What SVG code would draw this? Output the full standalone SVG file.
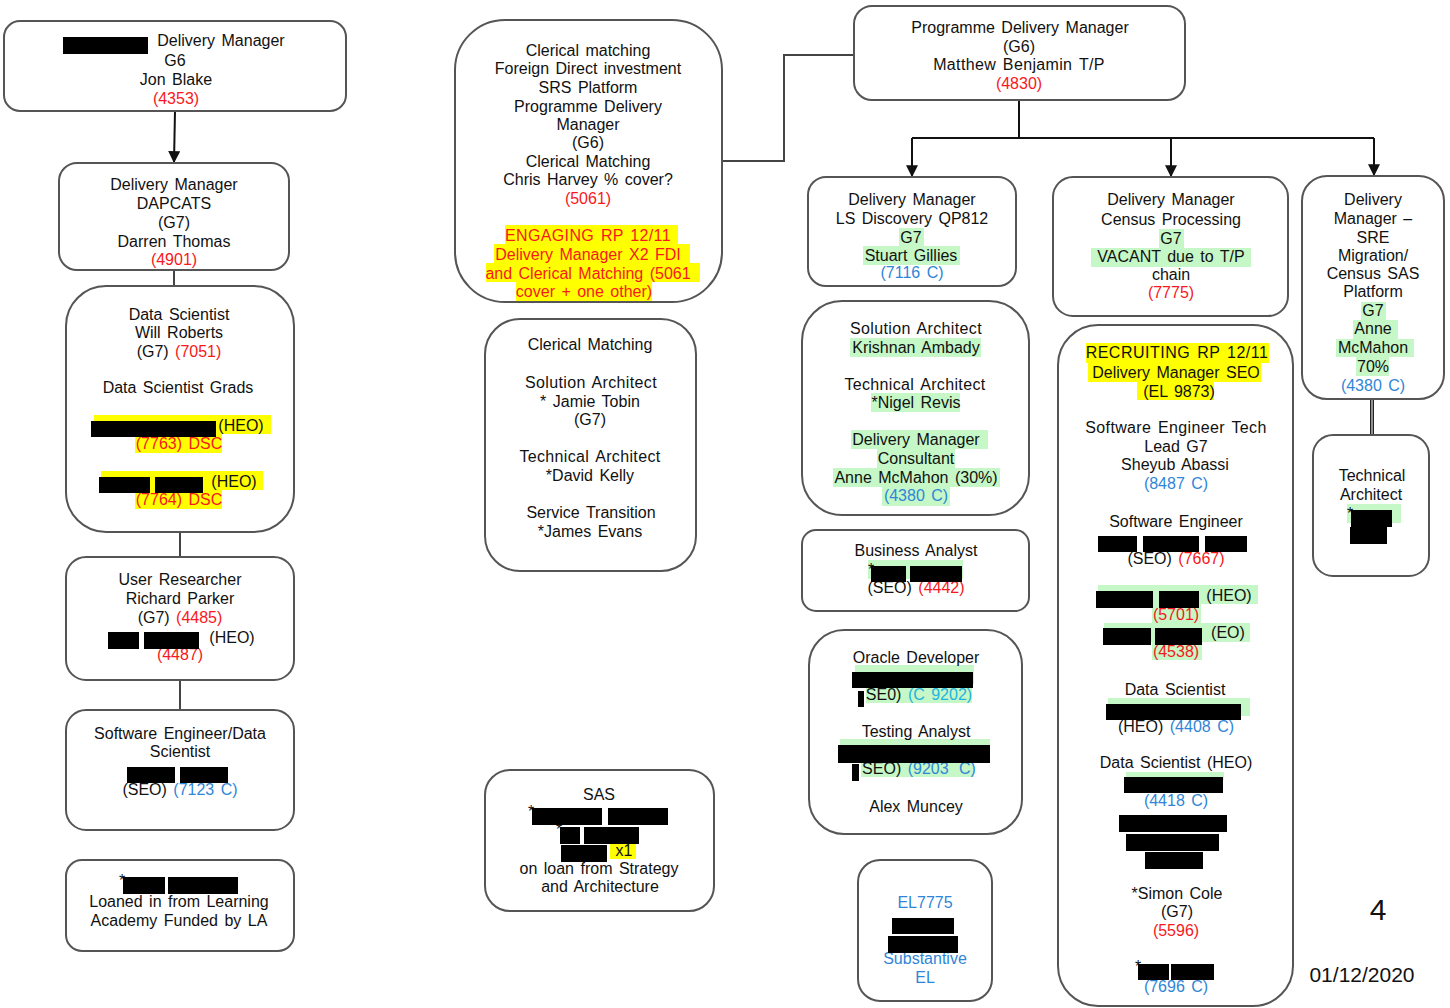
<svg xmlns="http://www.w3.org/2000/svg" width="1450" height="1008" viewBox="0 0 1450 1008">
<style>
text{font-family:"Liberation Sans",Arial,sans-serif;font-size:16px;fill:#111;text-anchor:middle;word-spacing:2px}
.n{fill:#fff;stroke:#555;stroke-width:2}
.c{fill:none;stroke:#444;stroke-width:2}
.a{fill:none;stroke:#111;stroke-width:2;marker-end:url(#ah)}
.r{fill:#000}
.y{fill:#ffff00}
.g{fill:#c6f7c6}
.w{letter-spacing:.35px}
.red{fill:#f81820}
.blue{fill:#2f86d8}
.cy{fill:#22b4e0}
</style>
<defs><marker id="ah" viewBox="0 0 10 10" refX="9" refY="5" markerWidth="6" markerHeight="6" orient="auto"><path d="M0 0L10 5L0 10z" fill="#111"/></marker></defs>
<g id="connectors">
<path class="a" d="M175 111L174 162"/>
<path class="c" d="M174 270V286M180 532V557M180 680V710"/>
<path class="c" d="M722 161H784V55H854"/>
<path class="c" d="M1019 100V138M912 138H1374" style="stroke:#111"/>
<path class="a" d="M912 138V176"/>
<path class="a" d="M1171 138V176"/>
<path class="a" d="M1374 138V175"/>
<path class="c" d="M1370.750 399V435M1373.250 399V435" style="stroke-width:1.500;stroke:#222"/>
</g>
<g id="n1"><rect class="n" x="4" y="21" width="342" height="90" rx="16"/>
<text x="221" y="46">Delivery Manager</text><text x="175" y="66">G6</text><text x="176" y="85">Jon Blake</text><text x="176" y="104" class="red">(4353)</text>
<rect class="r" x="63" y="37" width="85" height="17"/></g>
<g id="n2"><rect class="n" x="59" y="163" width="230" height="107" rx="18"/>
<text x="174" y="190">Delivery Manager</text><text x="174" y="209">DAPCATS</text><text x="174" y="228">(G7)</text><text x="174" y="247">Darren Thomas</text><text x="174" y="265" class="red">(4901)</text></g>
<g id="n3"><rect class="n" x="66" y="286" width="228" height="246" rx="40"/>
<rect class="y" x="94" y="415" width="177" height="19"/><rect class="y" x="135" y="434" width="87" height="19"/>
<rect class="y" x="101" y="471" width="162" height="19"/><rect class="y" x="135" y="490" width="87" height="19"/>
<text x="179" y="320">Data Scientist</text><text x="179" y="338">Will Roberts</text><text x="179" y="357">(G7) <tspan class="red">(7051)</tspan></text><text x="178" y="393">Data Scientist Grads</text>
<text x="241" y="431">(HEO)</text><text x="179" y="449" class="red">(7763) DSC</text><text x="234" y="487">(HEO)</text><text x="179" y="505" class="red">(7764) DSC</text>
<rect class="r" x="91" y="421" width="125" height="16"/><rect class="r" x="99" y="477" width="51" height="16"/><rect class="r" x="155" y="477" width="48" height="16"/></g>
<g id="n4"><rect class="n" x="66" y="557" width="228" height="123" rx="20"/>
<text x="180" y="585">User Researcher</text><text x="180" y="604">Richard Parker</text><text x="180" y="623">(G7) <tspan class="red">(4485)</tspan></text><text x="232" y="643">(HEO)</text><text x="180" y="660" class="red">(4487)</text>
<rect class="r" x="108" y="632" width="31" height="17"/><rect class="r" x="144" y="632" width="55" height="17"/></g>
<g id="n5"><rect class="n" x="66" y="710" width="228" height="120" rx="20"/>
<text x="180" y="739">Software Engineer/Data</text><text x="180" y="757">Scientist</text><text x="180" y="795">(SEO) <tspan class="blue">(7123 C)</tspan></text>
<rect class="r" x="127" y="767" width="48" height="16"/><rect class="r" x="180" y="767" width="48" height="16"/></g>
<g id="n6"><rect class="n" x="66" y="860" width="228" height="91" rx="16"/>
<text x="179" y="907">Loaned in from Learning</text><text x="179" y="926">Academy Funded by LA</text>
<text x="122" y="886">*</text><rect class="r" x="123" y="877" width="42" height="17"/><rect class="r" x="168" y="877" width="70" height="17"/></g>
<g id="c1"><rect class="n" x="455" y="20" width="267" height="282" rx="50"/>
<rect class="y" x="505" y="225" width="173" height="19"/><rect class="y" x="494" y="244" width="196" height="19"/><rect class="y" x="486" y="263" width="214" height="19"/><rect class="y" x="516" y="282" width="136" height="19"/>
<text x="588" y="56">Clerical matching</text><text x="588" y="74">Foreign Direct investment</text><text x="588" y="93">SRS Platform</text><text x="588" y="112">Programme Delivery</text><text x="588" y="130">Manager</text><text x="588" y="148">(G6)</text><text x="588" y="167">Clerical Matching</text><text x="588" y="185">Chris Harvey % cover?</text><text x="588" y="204" class="red">(5061)</text>
<text x="588" y="241" class="red w">ENGAGING RP 12/11</text><text x="588" y="260" class="red">Delivery Manager X2 FDI</text><text x="588" y="279" class="red">and Clerical Matching (5061</text><text x="584" y="297" class="red">cover + one other)</text></g>
<g id="c2"><rect class="n" x="485" y="319" width="211" height="252" rx="35"/>
<text x="590" y="350">Clerical Matching</text><text x="591" y="388" class="w">Solution Architect</text><text x="590" y="407">* Jamie Tobin</text><text x="590" y="425">(G7)</text><text x="590" y="462" class="w">Technical Architect</text><text x="590" y="481">*David Kelly</text><text x="591" y="518">Service Transition</text><text x="590" y="537">*James Evans</text></g>
<g id="c3"><rect class="n" x="485" y="770" width="229" height="141" rx="25"/>
<rect class="y" x="610" y="843" width="26" height="16"/>
<text x="599" y="800">SAS</text><text x="624" y="856">x1</text><text x="599" y="874">on loan from Strategy</text><text x="600" y="892">and Architecture</text>
<text x="531" y="817">*</text><text x="559" y="835">*</text>
<rect class="r" x="532" y="808" width="70" height="17"/><rect class="r" x="608" y="808" width="60" height="17"/><rect class="r" x="560" y="827" width="20" height="17"/><rect class="r" x="584" y="827" width="55" height="17"/><rect class="r" x="561" y="845" width="46" height="17"/></g>
<g id="top"><rect class="n" x="854" y="6" width="331" height="94" rx="18"/>
<text x="1020" y="33">Programme Delivery Manager</text><text x="1019" y="52">(G6)</text><text x="1019" y="70" class="w">Matthew Benjamin T/P</text><text x="1019" y="89" class="red">(4830)</text></g>
<g id="d1"><rect class="n" x="808" y="177" width="208" height="109" rx="18"/>
<rect class="g" x="899" y="228" width="25" height="18"/><rect class="g" x="863" y="246" width="97" height="19"/>
<text x="912" y="205">Delivery Manager</text><text x="912" y="224">LS Discovery QP812</text><text x="911" y="243">G7</text><text x="911" y="261">Stuart Gillies</text><text x="912" y="278" class="blue">(7116 C)</text></g>
<g id="d2"><rect class="n" x="1053" y="177" width="235" height="139" rx="20"/>
<rect class="g" x="1159" y="229" width="25" height="19"/><rect class="g" x="1091" y="248" width="160" height="19"/>
<text x="1171" y="205">Delivery Manager</text><text x="1171" y="225">Census Processing</text><text x="1171" y="244">G7</text><text x="1171" y="262">VACANT due to T/P</text><text x="1171" y="280">chain</text><text x="1171" y="298" class="red">(7775)</text></g>
<g id="d3"><rect class="n" x="1302" y="176" width="142" height="223" rx="25"/>
<rect class="g" x="1361" y="302" width="25" height="18"/><rect class="g" x="1353" y="320" width="45" height="19"/><rect class="g" x="1336" y="339" width="78" height="18"/><rect class="g" x="1356" y="357" width="33" height="19"/>
<text x="1373" y="205">Delivery</text><text x="1373" y="224">Manager –</text><text x="1373" y="243">SRE</text><text x="1373" y="261">Migration/</text><text x="1373" y="279">Census SAS</text><text x="1373" y="297">Platform</text><text x="1373" y="316">G7</text><text x="1373" y="334">Anne</text><text x="1373" y="353">McMahon</text><text x="1373" y="372">70%</text><text x="1373" y="391" class="blue">(4380 C)</text></g>
<g id="e1"><rect class="n" x="802" y="301" width="227" height="214" rx="40"/>
<rect class="g" x="850" y="338" width="131" height="19"/><rect class="g" x="871" y="393" width="89" height="19"/><rect class="g" x="851" y="430" width="137" height="19"/><rect class="g" x="877" y="449" width="78" height="19"/><rect class="g" x="833" y="468" width="167" height="19"/><rect class="g" x="882" y="487" width="68" height="19"/>
<text x="916" y="334" class="w">Solution Architect</text><text x="916" y="353">Krishnan Ambady</text><text x="915" y="390" class="w">Technical Architect</text><text x="916" y="408">*Nigel Revis</text><text x="916" y="445">Delivery Manager</text><text x="916" y="464">Consultant</text><text x="916" y="483">Anne McMahon (30%)</text><text x="916" y="501" class="blue">(4380 C)</text></g>
<g id="e2"><rect class="n" x="802" y="530" width="227" height="81" rx="14"/>
<rect class="g" x="868" y="560" width="95" height="19"/>
<text x="916" y="556">Business Analyst</text><text x="916" y="593">(SEO) <tspan class="red">(4442)</tspan></text>
<text x="871" y="575">*</text><rect class="r" x="871" y="566" width="35" height="16"/><rect class="r" x="910" y="566" width="52" height="16"/></g>
<g id="e3"><rect class="n" x="809" y="630" width="213" height="204" rx="35"/>
<rect class="g" x="855" y="665" width="119" height="19"/><rect class="g" x="866" y="684" width="106" height="19"/><rect class="g" x="840" y="739" width="150" height="19"/><rect class="g" x="861" y="758" width="113" height="19"/>
<text x="916" y="663">Oracle Developer</text><text x="919" y="700">SE0) <tspan class="cy">(C 9202)</tspan></text><text x="916" y="737">Testing Analyst</text><text x="919" y="774">SEO) <tspan class="blue" style="word-spacing:6px">(9203 C)</tspan></text><text x="916" y="812">Alex Muncey</text>
<rect class="r" x="852" y="672" width="121" height="16"/><rect class="r" x="858" y="691" width="6" height="16"/><rect class="r" x="838" y="745" width="152" height="18"/><rect class="r" x="852" y="764" width="7" height="17"/></g>
<g id="e4"><rect class="n" x="858" y="860" width="134" height="141" rx="22"/>
<text x="925" y="908" class="blue">EL7775</text><text x="925" y="964" class="blue">Substantive</text><text x="925" y="983" class="blue">EL</text>
<rect class="r" x="892" y="918" width="62" height="16"/><rect class="r" x="888" y="936" width="70" height="17"/></g>
<g id="f"><rect class="n" x="1058" y="325" width="235" height="681" rx="40"/>
<rect class="y" x="1086" y="343" width="183" height="20"/><rect class="y" x="1088" y="363" width="173" height="19"/><rect class="y" x="1137" y="382" width="77" height="18"/>
<rect class="g" x="1098" y="585" width="160" height="19"/><rect class="g" x="1152" y="604" width="49" height="19"/><rect class="g" x="1104" y="623" width="146" height="19"/><rect class="g" x="1152" y="642" width="50" height="18"/><rect class="g" x="1108" y="698" width="142" height="18"/><rect class="g" x="1126" y="772" width="98" height="8"/>
<text x="1177" y="358" style="letter-spacing:.5px">RECRUITING RP 12/11</text><text x="1176" y="378">Delivery Manager SEO</text><text x="1179" y="397">(EL 9873)</text>
<text x="1176" y="433" class="w">Software Engineer Tech</text><text x="1176" y="452">Lead G7</text><text x="1175" y="470">Sheyub Abassi</text><text x="1176" y="489" class="blue">(8487 C)</text>
<text x="1176" y="527">Software Engineer</text><text x="1176" y="564">(SEO) <tspan class="red">(7667)</tspan></text>
<text x="1229" y="601">(HEO)</text><text x="1176" y="620" class="red">(5701)</text><text x="1228" y="638">(EO)</text><text x="1176" y="657" class="red">(4538)</text>
<text x="1175" y="695">Data Scientist</text><text x="1176" y="732">(HEO) <tspan class="blue">(4408 C)</tspan></text>
<text x="1176" y="768">Data Scientist (HEO)</text><text x="1176" y="806" class="blue">(4418 C)</text>
<text x="1177" y="899">*Simon Cole</text><text x="1177" y="917">(G7)</text><text x="1176" y="936" class="red">(5596)</text><text x="1176" y="992" class="blue">(7696 C)</text>
<text x="1138" y="972">*</text>
<rect class="r" x="1098" y="536" width="39" height="16"/><rect class="r" x="1143" y="536" width="56" height="16"/><rect class="r" x="1205" y="536" width="42" height="16"/>
<rect class="r" x="1096" y="591" width="57" height="17"/><rect class="r" x="1159" y="591" width="40" height="17"/><rect class="r" x="1103" y="628" width="48" height="17"/><rect class="r" x="1155" y="628" width="47" height="17"/>
<rect class="r" x="1106" y="704" width="135" height="16"/><rect class="r" x="1124" y="777" width="99" height="16"/><rect class="r" x="1119" y="815" width="108" height="17"/><rect class="r" x="1126" y="834" width="93" height="17"/><rect class="r" x="1145" y="852" width="58" height="17"/><rect class="r" x="1138" y="964" width="31" height="16"/><rect class="r" x="1171" y="964" width="43" height="16"/></g>
<g id="g"><rect class="n" x="1313" y="435" width="116" height="141" rx="20"/>
<rect class="g" x="1347" y="504" width="54" height="19"/>
<text x="1372" y="481">Technical</text><text x="1371" y="500">Architect</text>
<text x="1350" y="519">*</text><rect class="r" x="1351" y="510" width="41" height="17"/><rect class="r" x="1350" y="527" width="37" height="17"/></g>
<g id="notes"><text x="1378" y="920" style="font-size:30px">4</text><text x="1362" y="982" style="font-size:21px;word-spacing:0">01/12/2020</text></g>
</svg>
